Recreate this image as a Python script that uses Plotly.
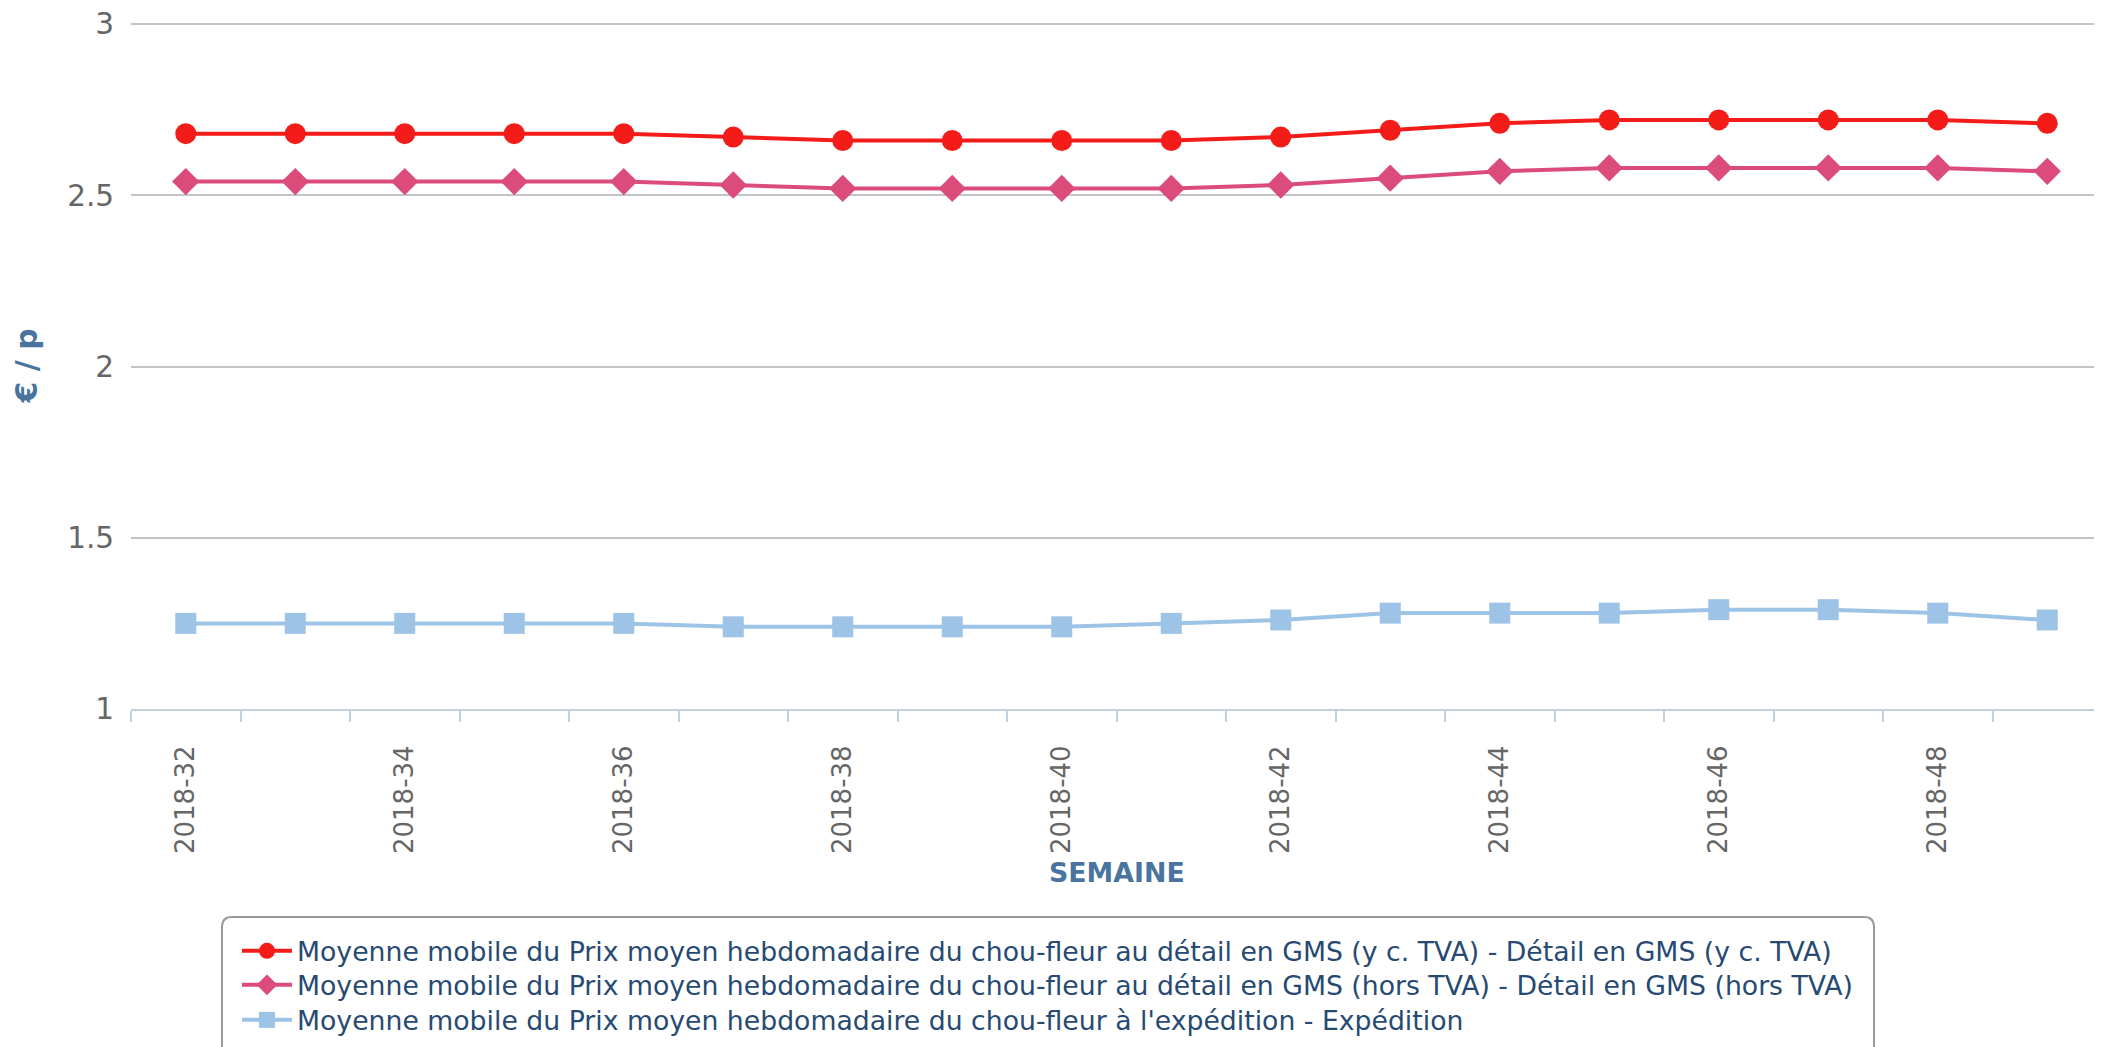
import plotly.graph_objects as go

weeks = ["2018-32", "2018-33", "2018-34", "2018-35", "2018-36", "2018-37", "2018-38", "2018-39", "2018-40",
         "2018-41", "2018-42", "2018-43", "2018-44", "2018-45", "2018-46", "2018-47", "2018-48", "2018-49"]
gms_ttc = [2.68, 2.68, 2.68, 2.68, 2.68, 2.67, 2.66, 2.66, 2.66, 2.66, 2.67, 2.69, 2.71, 2.72, 2.72, 2.72, 2.72, 2.71]
gms_ht = [2.54, 2.54, 2.54, 2.54, 2.54, 2.53, 2.52, 2.52, 2.52, 2.52, 2.53, 2.55, 2.57, 2.58, 2.58, 2.58, 2.58, 2.57]
expedition = [1.25, 1.25, 1.25, 1.25, 1.25, 1.24, 1.24, 1.24, 1.24, 1.25, 1.26, 1.28, 1.28, 1.28, 1.29, 1.29, 1.28, 1.26]

names = [
    "Moyenne mobile du Prix moyen hebdomadaire du chou-fleur au détail en GMS (y c. TVA) - Détail en GMS (y c. TVA)",
    "Moyenne mobile du Prix moyen hebdomadaire du chou-fleur au détail en GMS (hors TVA) - Détail en GMS (hors TVA)",
    "Moyenne mobile du Prix moyen hebdomadaire du chou-fleur à l'expédition - Expédition",
]
y_ticks = [1, 1.5, 2, 2.5, 3]

W, H = 2102, 1047
OFF = 8  # page body margin
Y_MIN, Y_MAX = 1, 3
Y_PAD = 0.006  # small headroom so the top gridline is drawn
unit = (709 - 24) / (Y_MAX - Y_MIN)  # px per unit
L, R = 131 - OFF, OFF
T = (24 - OFF) - Y_PAD * unit
B = H - (709 - OFF)
pw, ph = W - L - R, H - T - B


def px_x(p):  # page pixel -> paper
    return (p - OFF - L) / pw


def px_y(p):
    return (H - B - (p - OFF)) / ph


series = [gms_ttc, gms_ht, expedition]
colors = ["#f41c18", "#db4c7a", "#9dc3e6"]
symbols = ["circle", "diamond", "square"]
legend_ids = ["legend", "legend2", "legend3"]

fig = go.Figure()
for vals, name, col, sym, lg in zip(series, names, colors, symbols, legend_ids):
    fig.add_trace(go.Scatter(x=weeks, y=vals, name=name, mode="lines+markers", legend=lg,
                             line=dict(color=col, width=4),
                             marker=dict(symbol=sym, size=21, color=col)))

ticktext = [w if i % 2 == 0 else "" for i, w in enumerate(weeks)]

# rounded legend box
x0, x1 = px_x(222), px_x(1874)
y0, y1 = px_y(917), px_y(1065)
rx, ry = 10 / pw, 10 / ph
path = (f"M {x0+rx},{y0} L {x1-rx},{y0} Q {x1},{y0} {x1},{y0-ry} "
        f"L {x1},{y1+ry} Q {x1},{y1} {x1-rx},{y1} L {x0+rx},{y1} Q {x0},{y1} {x0},{y1+ry} "
        f"L {x0},{y0-ry} Q {x0},{y0} {x0+rx},{y0} Z")

legend_rows = [951, 985, 1020]  # page y of each legend row centre
legend_common = dict(xref="container", yref="container", x=(237 - OFF) / W,
                     xanchor="left", yanchor="middle",
                     bgcolor="rgba(0,0,0,0)", borderwidth=0,
                     font=dict(size=26.7, color="#274a72", family="DejaVu Sans"),
                     itemwidth=50)
legend_layout = {lg: dict(legend_common, y=1 - (row - OFF) / H) for lg, row in zip(legend_ids, legend_rows)}

fig.update_layout(
    width=W, height=H,
    margin=dict(l=L, r=R, t=T, b=B, autoexpand=False),
    paper_bgcolor="white", plot_bgcolor="white",
    font=dict(family="DejaVu Sans", color="#666666"),
    showlegend=True,
    **legend_layout,
    shapes=[dict(type="path", xref="paper", yref="paper", path=path,
                 line=dict(color="#999999", width=2), fillcolor="rgba(0,0,0,0)", layer="below")],
    annotations=[
        dict(text="<b>SEMAINE</b>", xref="paper", yref="paper", x=0.5, y=px_y(873),
             showarrow=False, font=dict(size=26.8, color="#4a74a0", family="DejaVu Sans"),
             xanchor="center", yanchor="middle"),
        dict(text="<b>€ / p</b>", xref="paper", yref="paper", x=px_x(27), y=0.5 * (2 / (2 + Y_PAD)),
             showarrow=False, textangle=-90, font=dict(size=30, color="#4a74a0", family="DejaVu Sans"),
             xanchor="center", yanchor="middle"),
    ],
)

fig.update_xaxes(
    type="category", categoryorder="array", categoryarray=weeks,
    range=[-0.5, len(weeks) - 0.5],
    tickmode="array", tickvals=weeks, ticktext=ticktext,
    tickson="boundaries", ticks="outside", ticklen=11, tickwidth=2, tickcolor="#c0d0e0",
    tickangle=-90, tickfont=dict(size=26, color="#666666"),
    ticklabelstandoff=24,
    showline=True, linecolor="#c0d0e0", linewidth=2,
    showgrid=False, zeroline=False,
)
fig.update_yaxes(
    range=[Y_MIN, Y_MAX + Y_PAD], tickmode="array", tickvals=y_ticks, ticktext=[str(v) for v in y_ticks],
    tickfont=dict(size=29.5, color="#666666"),
    ticklabeloverflow="allow",
    showgrid=True, gridcolor="#c4c4c4", gridwidth=2,
    zeroline=False, showline=False,
    ticks="outside", ticklen=10, tickcolor="rgba(0,0,0,0)",
)

fig.write_html("out.html")
